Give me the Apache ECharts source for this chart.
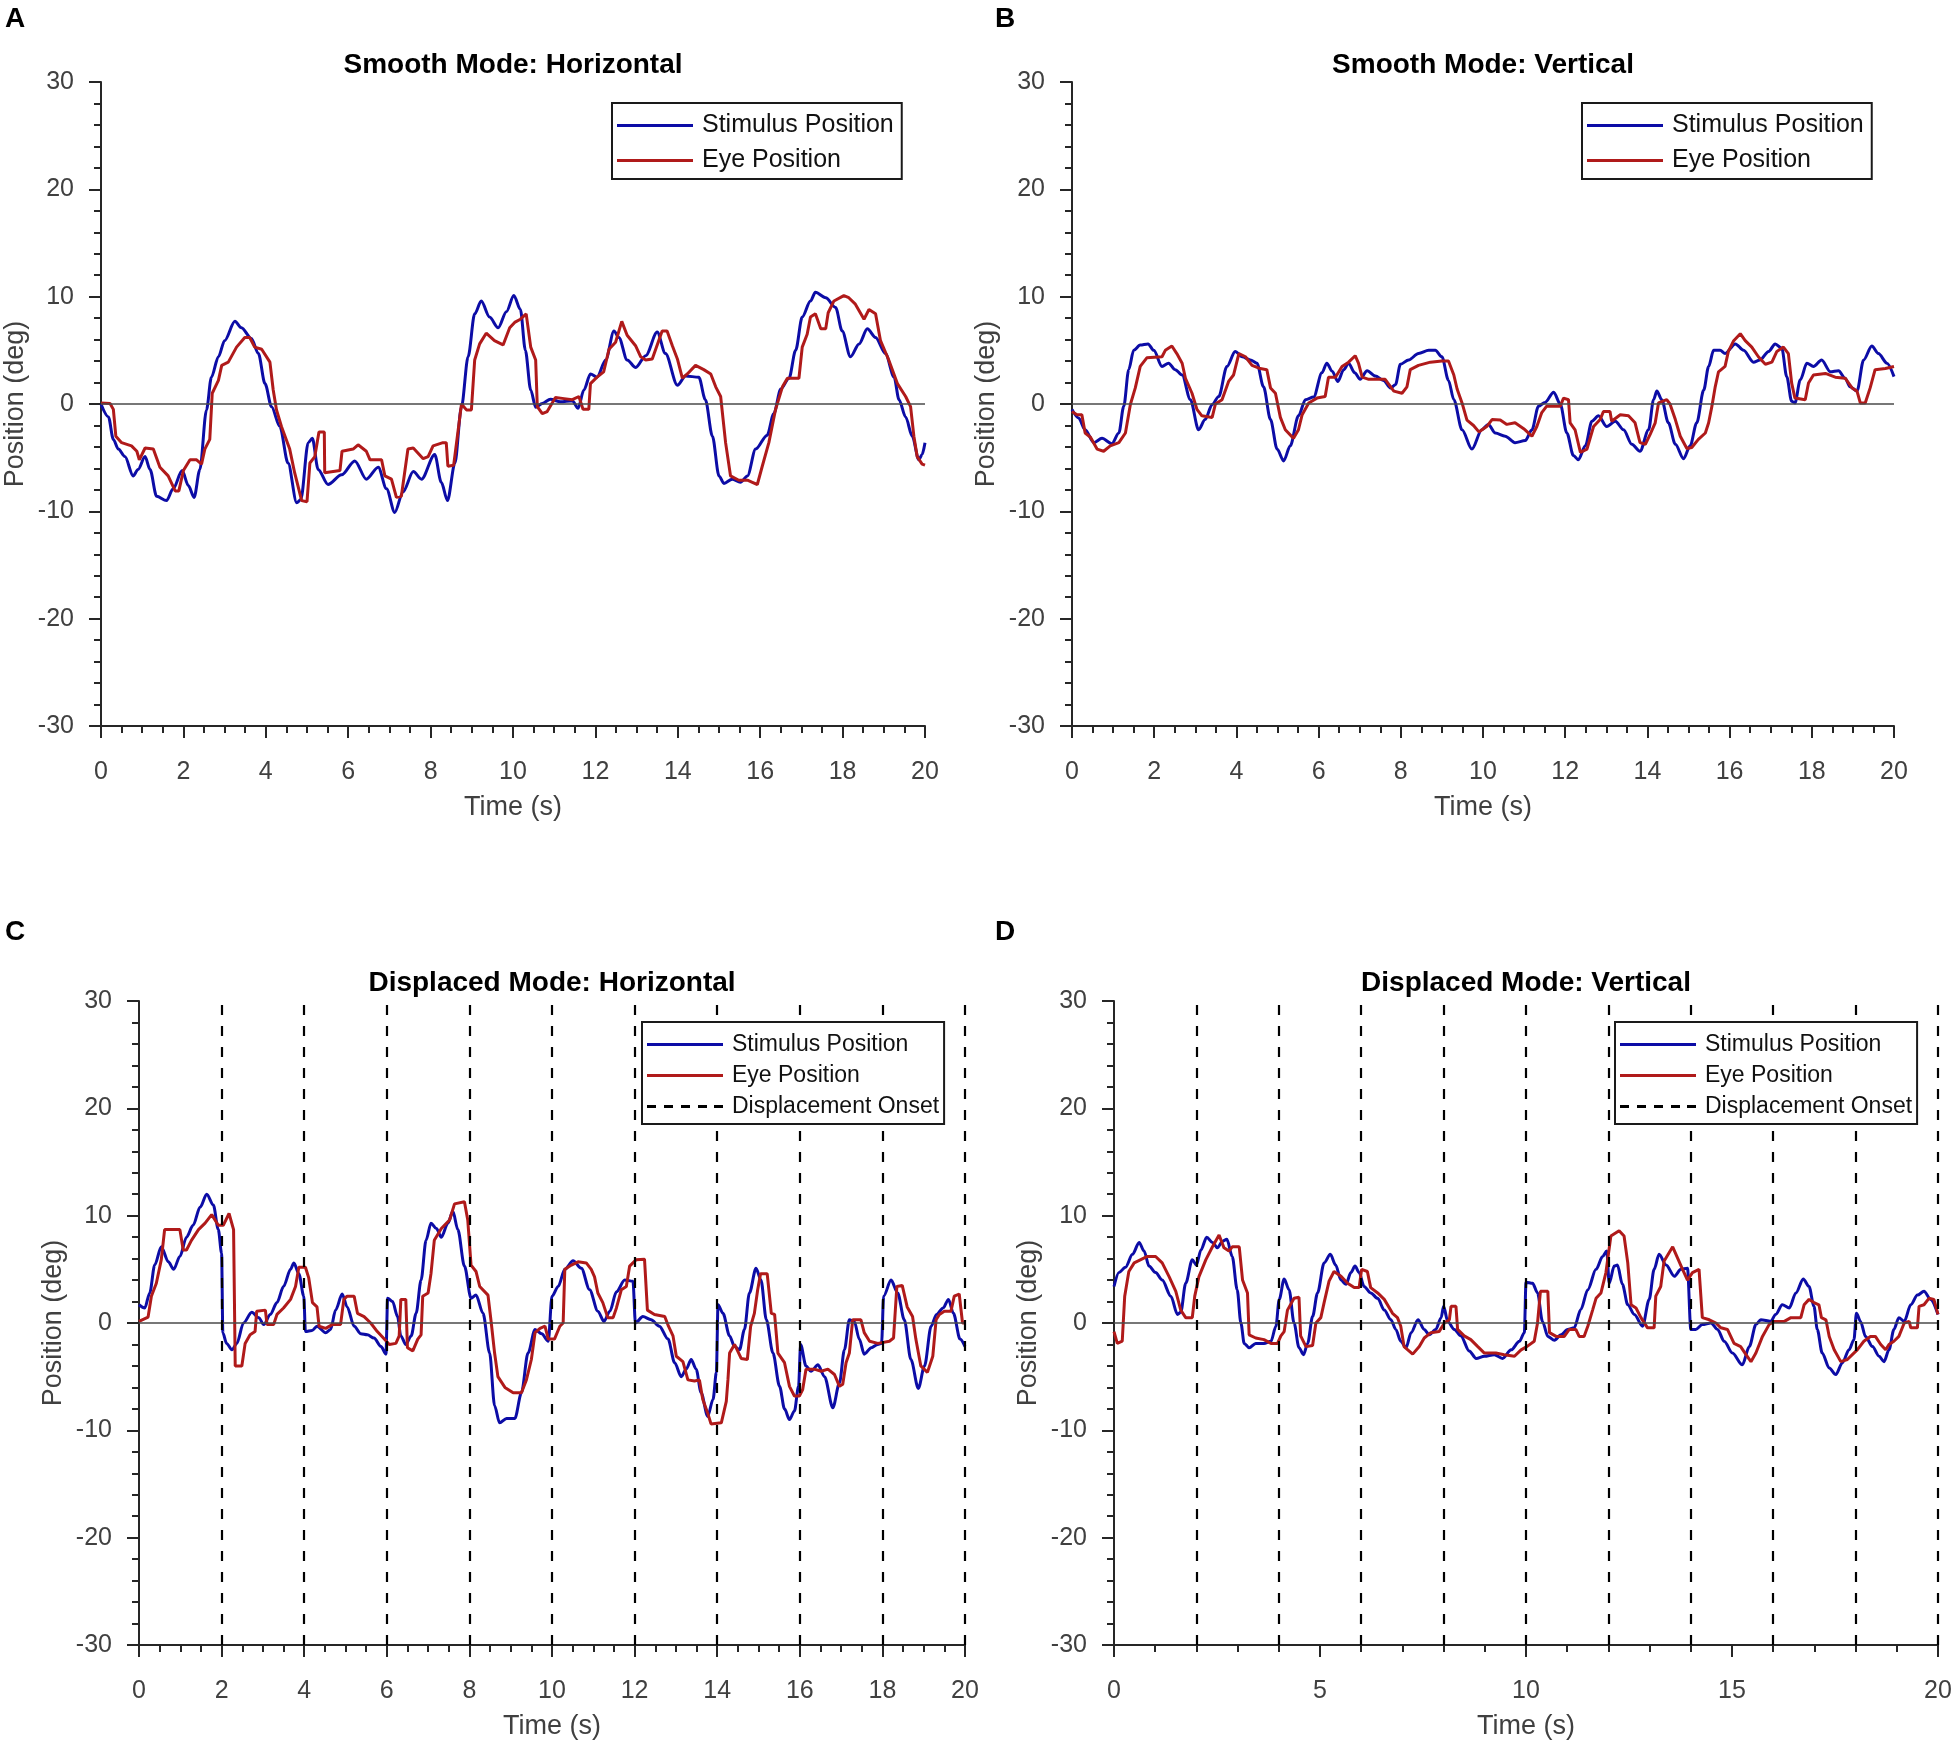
<!DOCTYPE html>
<html>
<head>
<meta charset="utf-8">
<script src="https://cdn.jsdelivr.net/npm/echarts@6/dist/echarts.min.js"></script>
<style>
html,body{margin:0;padding:0;background:#fff;}
#chart{width:1955px;height:1744px;}
</style>
</head>
<body>
<div id="chart"></div>
<script>
// ---------- DATA ----------
const panelTitles = ['Smooth Mode: Horizontal', 'Smooth Mode: Vertical', 'Displaced Mode: Horizontal', 'Displaced Mode: Vertical'];
const panelLetters = ['A', 'B', 'C', 'D'];
const seriesNames = ['Stimulus Position', 'Eye Position', 'Displacement Onset'];
const xAxisName = 'Time (s)';
const yAxisName = 'Position (deg)';
const displacementOnsets = [2, 4, 6, 8, 10, 12, 14, 16, 18, 20];

// Panel A: smooth mode, horizontal  [time (s), position (deg)]
const smoothHorizStimulus = [[0,0],[0.18,-1.2],[0.3,-3.3],[0.42,-4.2],[0.58,-4.9],[0.78,-6.7],[0.9,-6.1],[1.07,-4.9],[1.19,-6.1],[1.35,-8.6],[1.59,-9.0],[1.75,-7.9],[1.97,-6.2],[2.12,-7.6],[2.26,-8.7],[2.4,-6.1],[2.56,-0.55],[2.68,2.5],[2.85,4.4],[3.0,5.9],[3.25,7.7],[3.41,7.1],[3.65,6.1],[3.82,4.7],[3.98,1.9],[4.14,-0.25],[4.34,-2.1],[4.54,-5.5],[4.75,-9.2],[4.85,-8.9],[5.03,-3.6],[5.13,-3.2],[5.27,-6.1],[5.51,-7.5],[5.84,-6.6],[6.16,-5.3],[6.44,-7.0],[6.73,-5.9],[6.93,-7.9],[7.13,-10.1],[7.33,-8.2],[7.58,-6.3],[7.78,-7.0],[8.1,-4.7],[8.26,-7.3],[8.41,-9.0],[8.59,-5.5],[8.75,-0.25],[8.91,4.4],[9.07,8.4],[9.23,9.6],[9.43,8.1],[9.64,7.1],[9.84,8.6],[10.02,10.1],[10.18,8.8],[10.3,5.0],[10.43,1.3],[10.55,-0.3],[10.71,0.05],[10.91,0.45],[11.15,0.2],[11.44,0.3],[11.58,-0.4],[11.72,1.3],[11.88,2.8],[12.04,2.5],[12.25,4.1],[12.45,6.8],[12.57,6.2],[12.77,4.1],[12.98,3.4],[13.22,4.5],[13.5,6.7],[13.7,4.7],[13.99,1.75],[14.19,2.6],[14.51,2.5],[14.67,0.4],[14.84,-3.0],[15.0,-6.7],[15.12,-7.4],[15.32,-7.0],[15.52,-7.3],[15.69,-6.7],[15.89,-4.2],[16.17,-2.9],[16.33,-0.9],[16.5,1.4],[16.7,2.4],[16.86,5.0],[17.02,8.1],[17.22,9.6],[17.34,10.4],[17.59,9.9],[17.83,9.0],[17.99,6.8],[18.19,4.4],[18.4,5.6],[18.6,7.0],[18.8,6.2],[19.04,4.7],[19.25,2.5],[19.37,0.4],[19.53,-1.2],[19.69,-3.0],[19.85,-5.2],[19.93,-4.7],[20.0,-3.6]];
const smoothHorizEye = [[0,0.1],[0.22,0.05],[0.3,-0.5],[0.36,-3.0],[0.5,-3.6],[0.74,-3.9],[0.87,-4.4],[0.93,-5.2],[1.07,-4.1],[1.27,-4.2],[1.43,-5.9],[1.63,-6.7],[1.8,-8.1],[1.89,-8.1],[2.0,-6.2],[2.16,-5.2],[2.32,-5.2],[2.44,-5.6],[2.52,-4.2],[2.64,-3.3],[2.7,1.0],[2.85,2.2],[2.93,3.6],[3.09,3.9],[3.29,5.3],[3.49,6.2],[3.61,6.2],[3.73,5.3],[3.9,5.1],[4.1,3.9],[4.18,1.3],[4.26,-0.55],[4.38,-2.1],[4.58,-4.2],[4.7,-6.4],[4.87,-9.0],[5.0,-9.1],[5.07,-5.5],[5.19,-4.9],[5.29,-2.6],[5.42,-2.6],[5.43,-6.4],[5.8,-6.2],[5.85,-4.4],[6.12,-4.2],[6.24,-3.8],[6.44,-4.4],[6.53,-5.2],[6.81,-5.2],[6.89,-6.7],[7.05,-7.0],[7.17,-8.7],[7.29,-8.6],[7.45,-4.2],[7.58,-4.1],[7.82,-5.1],[7.94,-4.9],[8.06,-3.9],[8.3,-3.6],[8.38,-3.6],[8.42,-5.8],[8.56,-5.7],[8.67,-2.4],[8.75,0],[8.87,-0.55],[8.99,-0.55],[9.07,4.1],[9.19,5.6],[9.35,6.6],[9.55,5.9],[9.76,5.5],[9.92,7.1],[10.04,7.6],[10.18,7.9],[10.32,8.4],[10.43,5.3],[10.55,4.1],[10.59,-0.25],[10.71,-0.9],[10.83,-0.7],[11.03,0.6],[11.24,0.5],[11.44,0.4],[11.6,0.7],[11.7,-0.5],[11.84,-0.5],[11.88,1.9],[12.04,2.5],[12.2,3.0],[12.33,5.1],[12.49,5.75],[12.64,7.7],[12.77,6.4],[12.98,5.4],[13.1,4.4],[13.22,4.1],[13.38,4.2],[13.62,6.8],[13.74,6.8],[13.87,5.4],[13.99,4.2],[14.11,2.4],[14.23,2.8],[14.43,3.6],[14.63,3.2],[14.8,2.8],[14.92,1.6],[15.04,0.7],[15.16,-3.6],[15.28,-6.7],[15.48,-7.1],[15.69,-7.1],[15.81,-7.3],[15.93,-7.5],[16.05,-5.8],[16.21,-3.6],[16.37,-0.55],[16.54,1.6],[16.66,2.4],[16.94,2.4],[17.02,5.3],[17.14,6.5],[17.22,8.1],[17.34,8.4],[17.47,7.0],[17.59,7.0],[17.65,8.5],[17.79,9.6],[18.03,10.1],[18.15,9.9],[18.31,9.3],[18.52,7.9],[18.64,8.8],[18.8,8.4],[18.92,5.9],[19.12,4.1],[19.33,1.9],[19.53,0.7],[19.65,-0.25],[19.73,-3.0],[19.81,-4.9],[19.93,-5.6],[20.0,-5.7]];

// Panel B: smooth mode, vertical
const smoothVertStimulus = [[0,-0.5],[0.16,-1.3],[0.32,-2.4],[0.53,-3.6],[0.73,-3.2],[0.97,-3.7],[1.14,-2.7],[1.26,-0.2],[1.38,3.2],[1.5,5.0],[1.66,5.5],[1.85,5.6],[1.99,5.0],[2.19,3.5],[2.35,3.8],[2.51,3.2],[2.68,2.7],[2.88,0.4],[3.08,-2.4],[3.24,-1.45],[3.41,-0.05],[3.57,0.7],[3.77,3.5],[3.97,4.9],[4.14,4.4],[4.34,4.1],[4.5,3.8],[4.66,1.6],[4.83,-1.45],[4.99,-4.2],[5.15,-5.3],[5.31,-3.9],[5.51,-1.1],[5.68,0.4],[5.88,0.65],[6.08,2.9],[6.2,3.8],[6.33,3.05],[6.47,2.1],[6.61,3.2],[6.73,3.8],[6.88,2.9],[7.01,2.3],[7.18,3.1],[7.38,2.6],[7.58,2.2],[7.75,1.5],[7.87,1.8],[7.99,3.7],[8.19,4.1],[8.43,4.7],[8.68,5.0],[8.84,5.0],[9.0,4.4],[9.16,2.2],[9.29,0.4],[9.49,-2.4],[9.73,-4.2],[9.97,-2.4],[10.13,-1.9],[10.3,-2.7],[10.54,-3.0],[10.78,-3.6],[11.03,-3.4],[11.19,-2.4],[11.35,-0.2],[11.51,0.15],[11.72,1.1],[11.88,0],[12.04,-2.7],[12.2,-4.8],[12.32,-5.2],[12.49,-3.9],[12.65,-1.6],[12.81,-1.1],[13.01,-2.1],[13.22,-1.6],[13.42,-2.4],[13.62,-3.75],[13.82,-4.4],[14.03,-2.4],[14.15,0.4],[14.23,1.2],[14.35,0.4],[14.51,-1.75],[14.68,-3.75],[14.88,-5.1],[15.04,-3.9],[15.2,-1.75],[15.37,1.3],[15.49,3.5],[15.61,5.0],[15.77,5.0],[15.89,4.7],[16.14,5.6],[16.34,5.0],[16.58,3.9],[16.74,4.1],[16.95,4.9],[17.11,5.6],[17.27,5.2],[17.39,2.55],[17.51,0.25],[17.59,0.1],[17.72,2.25],[17.88,3.8],[18.04,3.5],[18.24,4.1],[18.45,3.0],[18.65,3.1],[18.81,2.4],[18.93,1.6],[19.1,1.2],[19.26,4.1],[19.46,5.4],[19.62,4.7],[19.83,3.8],[20.0,2.55]];
const smoothVertEye = [[0,-0.7],[0.12,-1.0],[0.24,-1.0],[0.32,-2.7],[0.45,-3.1],[0.61,-4.2],[0.77,-4.4],[0.93,-3.9],[1.14,-3.6],[1.3,-2.7],[1.42,-0.05],[1.54,1.5],[1.66,3.5],[1.82,4.3],[2.19,4.4],[2.27,5.0],[2.43,5.4],[2.55,4.7],[2.68,3.8],[2.76,2.4],[2.92,1.0],[3.04,-0.5],[3.16,-1.1],[3.41,-1.25],[3.49,0],[3.65,0.4],[3.81,2.1],[3.93,2.7],[4.06,4.7],[4.22,4.4],[4.38,3.6],[4.58,3.3],[4.74,3.2],[4.83,1.5],[4.95,1.0],[5.07,-1.25],[5.19,-2.4],[5.39,-3.2],[5.51,-2.4],[5.6,-1.0],[5.76,0.1],[5.96,0.55],[6.16,0.7],[6.24,2.5],[6.41,2.5],[6.57,3.5],[6.73,3.9],[6.89,4.5],[6.97,3.8],[7.06,2.5],[7.22,2.3],[7.62,2.3],[7.83,1.2],[8.03,1.0],[8.15,1.6],[8.23,3.2],[8.43,3.6],[8.72,3.9],[9.0,4.0],[9.16,4.0],[9.29,2.7],[9.37,1.4],[9.49,0.1],[9.61,-1.5],[9.77,-2.0],[9.9,-2.6],[10.09,-2.1],[10.22,-1.45],[10.42,-1.5],[10.58,-1.9],[10.78,-1.75],[10.99,-2.3],[11.19,-3.0],[11.31,-2.1],[11.43,-0.8],[11.55,-0.2],[11.88,-0.2],[11.96,0.55],[12.08,0.4],[12.12,-1.75],[12.24,-2.4],[12.37,-4.5],[12.53,-4.2],[12.69,-2.1],[12.85,-1.45],[12.93,-0.7],[13.09,-0.7],[13.13,-1.6],[13.34,-1.0],[13.54,-1.1],[13.7,-1.75],[13.82,-3.6],[13.95,-3.75],[14.07,-2.8],[14.19,-1.75],[14.27,0.1],[14.47,0.4],[14.55,0],[14.68,-1.45],[14.8,-3.0],[14.96,-4.15],[15.08,-4.05],[15.24,-3.3],[15.41,-2.7],[15.49,-1.75],[15.57,-0.2],[15.65,1.6],[15.73,3.0],[15.89,3.5],[15.97,4.9],[16.1,5.9],[16.26,6.55],[16.38,5.9],[16.54,5.3],[16.7,4.4],[16.87,3.7],[17.03,3.9],[17.15,4.9],[17.31,5.3],[17.43,4.7],[17.51,1.95],[17.59,0.55],[17.84,0.4],[17.92,1.95],[18.04,2.7],[18.33,2.85],[18.57,2.5],[18.81,2.4],[18.98,1.5],[19.1,1.2],[19.18,0.1],[19.3,0.1],[19.42,1.5],[19.54,3.2],[19.79,3.3],[20.0,3.5]];

// Panel C: displaced mode, horizontal
const displacedHorizStimulus = [[0,1.7],[0.14,1.4],[0.26,2.8],[0.38,5.4],[0.54,7.1],[0.71,5.7],[0.84,5.0],[0.99,6.2],[1.15,8.0],[1.31,9.1],[1.48,10.8],[1.64,12.0],[1.8,11.0],[1.92,8.7],[2.0,6.5],[2.03,-0.9],[2.12,-1.9],[2.25,-2.5],[2.37,-1.9],[2.53,0],[2.73,1.0],[2.9,0.5],[3.02,-0.15],[3.18,0.8],[3.34,1.9],[3.5,3.4],[3.67,5.0],[3.75,5.6],[3.87,4.6],[3.99,2.5],[4.03,-0.8],[4.19,-0.7],[4.31,-0.3],[4.52,-0.9],[4.64,-0.6],[4.76,1.2],[4.92,2.7],[5.04,1.5],[5.21,-0.3],[5.37,-1.0],[5.53,-1.1],[5.69,-1.4],[5.86,-2.2],[5.98,-2.9],[6.02,2.3],[6.14,2.0],[6.26,0.6],[6.34,-1.2],[6.46,-2.0],[6.59,-1.2],[6.71,0.9],[6.83,4.0],[6.95,7.7],[7.07,9.3],[7.2,8.8],[7.32,8.0],[7.48,9.3],[7.6,10.4],[7.72,8.7],[7.88,5.3],[8.04,2.3],[8.16,2.6],[8.33,0.9],[8.49,-2.8],[8.61,-7.7],[8.73,-9.3],[8.9,-8.9],[9.1,-8.9],[9.26,-6.5],[9.42,-2.8],[9.59,-0.6],[9.75,-1.0],[9.91,-1.7],[10.0,2.5],[10.15,3.4],[10.31,5.0],[10.51,5.8],[10.71,5.1],[10.91,3.1],[11.11,1.1],[11.26,0.15],[11.4,1.1],[11.56,2.9],[11.76,4.0],[11.96,3.9],[12.02,0],[12.2,0.6],[12.4,0.3],[12.6,-0.3],[12.81,-1.5],[12.97,-3.7],[13.13,-5.0],[13.25,-4.3],[13.37,-3.4],[13.49,-4.3],[13.61,-6.5],[13.77,-8.7],[13.9,-7.1],[13.98,-4.6],[14.02,1.7],[14.14,0.9],[14.3,-1.2],[14.42,-2.2],[14.54,-2.5],[14.66,-0.6],[14.78,2.8],[14.94,5.1],[15.06,4.0],[15.19,0.3],[15.35,-2.8],[15.51,-5.9],[15.63,-8.0],[15.75,-9.0],[15.87,-8.2],[15.97,-5.9],[16.02,-2.0],[16.15,-4.0],[16.27,-4.5],[16.44,-3.9],[16.6,-5.0],[16.8,-7.9],[16.96,-5.6],[17.08,-2.5],[17.2,0.3],[17.32,0.15],[17.44,-1.5],[17.56,-2.9],[17.73,-2.3],[17.89,-2.0],[17.98,-1.9],[18.03,2.5],[18.21,4.0],[18.37,2.8],[18.53,0.3],[18.69,-3.4],[18.87,-6.1],[19.02,-4.0],[19.18,-0.3],[19.31,0.8],[19.47,1.4],[19.6,2.2],[19.72,0.9],[19.88,-1.5],[20.0,-2.2]];
const displacedHorizEye = [[0,0.15],[0.22,0.55],[0.3,2.5],[0.42,3.7],[0.54,5.9],[0.62,8.7],[0.99,8.7],[1.07,6.8],[1.15,6.8],[1.27,7.7],[1.44,8.7],[1.6,9.3],[1.76,10.1],[1.92,9.1],[2.04,9.1],[2.18,10.2],[2.29,8.7],[2.33,-4.0],[2.49,-4.0],[2.57,-1.9],[2.69,-1.1],[2.81,-0.8],[2.85,1.1],[3.06,1.2],[3.1,-0.15],[3.26,-0.15],[3.34,0.8],[3.5,1.4],[3.67,2.2],[3.79,3.4],[3.87,5.2],[4.03,5.2],[4.11,4.2],[4.2,1.9],[4.31,1.5],[4.36,-0.3],[4.52,-0.5],[4.68,-0.15],[4.88,-0.15],[4.96,2.2],[5.04,2.5],[5.21,2.5],[5.29,0.9],[5.45,0.6],[5.61,0],[5.77,-0.8],[5.94,-1.5],[6.06,-2.0],[6.22,-1.9],[6.3,-1.2],[6.34,2.2],[6.46,2.2],[6.5,-2.3],[6.63,-2.6],[6.75,-1.5],[6.83,-1.1],[6.87,2.5],[7.0,2.8],[7.07,4.6],[7.15,7.7],[7.32,8.8],[7.52,9.6],[7.64,11.1],[7.88,11.3],[7.96,9.6],[8.04,5.4],[8.16,4.8],[8.25,3.4],[8.45,2.6],[8.53,0],[8.61,-2.8],[8.69,-5.0],[8.86,-6.0],[9.06,-6.5],[9.26,-6.5],[9.38,-5.3],[9.5,-3.4],[9.59,-0.9],[9.71,-0.5],[9.83,-0.3],[9.91,-1.5],[10.06,-1.5],[10.19,-0.3],[10.27,0],[10.31,5.0],[10.47,5.4],[10.63,5.7],[10.83,5.6],[10.95,5.0],[11.03,4.3],[11.11,2.8],[11.23,1.9],[11.35,0.5],[11.48,0.5],[11.56,1.4],[11.68,3.1],[11.8,3.4],[11.88,5.3],[12.04,5.9],[12.24,5.95],[12.31,1.2],[12.48,0.8],[12.73,0.6],[12.82,-0.3],[12.93,-1.2],[13.01,-3.1],[13.17,-3.6],[13.29,-5.3],[13.45,-5.4],[13.57,-5.3],[13.65,-7.1],[13.77,-8.4],[13.85,-9.4],[14.1,-9.3],[14.22,-7.3],[14.26,-5.3],[14.3,-2.8],[14.42,-2.0],[14.58,-3.3],[14.73,-3.4],[14.81,-0.3],[14.9,0.9],[14.98,3.1],[15.05,4.6],[15.21,4.6],[15.31,0.9],[15.39,0.8],[15.47,-2.8],[15.63,-3.7],[15.75,-5.9],[15.87,-6.8],[15.99,-6.8],[16.07,-6.2],[16.15,-4.3],[16.35,-4.3],[16.52,-4.5],[16.68,-4.3],[16.84,-4.8],[16.96,-5.9],[17.04,-5.7],[17.12,-3.7],[17.2,-2.8],[17.28,0.3],[17.48,0.3],[17.56,-0.9],[17.69,-1.7],[17.89,-1.9],[18.17,-1.7],[18.27,-1.4],[18.35,3.4],[18.48,3.5],[18.6,1.5],[18.73,0.6],[18.81,-1.5],[18.93,-4.0],[19.09,-4.6],[19.22,-3.1],[19.3,0.3],[19.38,0.8],[19.5,1.1],[19.66,1.1],[19.74,2.5],[19.86,2.7],[19.94,0],[20.0,0]];

// Panel D: displaced mode, vertical
const displacedVertStimulus = [[0,3.4],[0.12,4.7],[0.28,5.2],[0.45,6.4],[0.61,7.5],[0.73,6.7],[0.85,5.3],[1.01,4.7],[1.17,4.0],[1.38,2.5],[1.54,0.8],[1.62,1.0],[1.74,3.7],[1.9,5.9],[2.0,5.4],[2.11,6.8],[2.25,8.0],[2.39,7.5],[2.51,7.0],[2.63,7.6],[2.74,7.8],[2.87,6.2],[2.99,3.1],[3.08,0],[3.16,-1.9],[3.28,-2.3],[3.44,-1.9],[3.64,-1.9],[3.81,-1.7],[3.93,-0.3],[4.01,2.2],[4.13,4.1],[4.25,3.1],[4.37,0],[4.49,-2.3],[4.6,-2.95],[4.7,-1.9],[4.82,0.6],[4.94,2.8],[5.1,5.6],[5.25,6.4],[5.38,5.4],[5.51,4.0],[5.63,3.6],[5.75,4.7],[5.85,5.3],[5.95,4.7],[6.07,3.4],[6.23,2.8],[6.4,2.3],[6.56,1.2],[6.72,0.3],[6.84,-0.6],[6.96,-1.7],[7.09,-2.3],[7.21,-0.9],[7.38,0.3],[7.53,-0.6],[7.65,-1.1],[7.81,-0.6],[7.94,0.5],[8.0,1.55],[8.1,0.15],[8.26,-0.6],[8.42,-1.2],[8.62,-2.6],[8.79,-3.3],[8.99,-3.1],[9.23,-2.95],[9.43,-3.3],[9.64,-2.5],[9.84,-1.7],[9.96,-0.9],[10.0,3.8],[10.16,3.7],[10.28,2.8],[10.4,0.15],[10.53,-1.25],[10.69,-1.6],[10.85,-1.1],[11.01,-0.6],[11.17,-0.45],[11.33,1.25],[11.5,3.1],[11.7,5.0],[11.86,6.2],[11.96,6.7],[12.02,3.7],[12.14,5.3],[12.22,5.4],[12.34,3.6],[12.47,1.7],[12.63,0.8],[12.83,-0.3],[12.99,2.2],[13.11,5.0],[13.23,6.4],[13.4,5.4],[13.6,4.35],[13.76,5.0],[13.92,5.1],[14.0,-0.6],[14.12,-0.6],[14.28,-0.15],[14.49,0],[14.65,-0.6],[14.81,-1.7],[15.01,-2.8],[15.25,-3.9],[15.42,-2.2],[15.58,-0.15],[15.7,0.3],[15.94,0.15],[16.06,0.8],[16.22,1.7],[16.39,1.4],[16.55,2.8],[16.73,4.1],[16.87,3.4],[16.99,1.55],[17.07,-0.6],[17.19,-2.8],[17.36,-4.2],[17.52,-4.8],[17.68,-3.7],[17.84,-2.5],[17.96,-1.55],[18.02,0.9],[18.12,0.15],[18.24,-1.25],[18.41,-2.2],[18.57,-3.1],[18.69,-3.6],[18.81,-2.5],[18.93,-0.6],[19.05,0.5],[19.18,0.15],[19.34,1.7],[19.5,2.6],[19.66,2.95],[19.82,2.2],[20.0,0.8]];
const displacedVertEye = [[0,-0.8],[0.08,-1.9],[0.2,-1.7],[0.26,2.5],[0.36,4.8],[0.49,5.6],[0.65,5.9],[0.81,6.2],[1.01,6.2],[1.17,5.6],[1.34,4.3],[1.5,2.95],[1.62,1.2],[1.74,0.5],[1.9,0.5],[1.96,2.5],[2.06,4.3],[2.23,5.9],[2.39,7.1],[2.55,8.2],[2.67,7.0],[2.79,6.7],[2.87,7.1],[3.04,7.1],[3.12,4.0],[3.24,2.8],[3.28,-1.1],[3.44,-1.4],[3.64,-1.55],[3.81,-1.9],[3.97,-1.9],[4.05,-1.2],[4.13,-0.8],[4.21,1.2],[4.37,2.3],[4.49,2.4],[4.53,-1.2],[4.66,-2.2],[4.82,-2.1],[4.9,0],[5.02,0.5],[5.1,1.9],[5.22,3.9],[5.34,4.8],[5.51,4.35],[5.67,3.7],[5.83,3.3],[5.95,3.3],[6.01,5.0],[6.15,4.8],[6.23,3.3],[6.4,2.8],[6.56,2.2],[6.76,0.9],[6.88,0.5],[6.96,-0.3],[7.04,-2.2],[7.25,-2.9],[7.41,-2.2],[7.53,-1.4],[7.69,-0.9],[7.89,-0.8],[8.02,0],[8.14,0.3],[8.18,1.55],[8.3,1.55],[8.34,-0.6],[8.5,-1.2],[8.66,-1.55],[8.83,-2.2],[8.99,-2.8],[9.27,-2.8],[9.47,-2.95],[9.72,-3.1],[9.88,-2.5],[10.02,-2.2],[10.2,-1.7],[10.28,0],[10.35,2.95],[10.53,2.95],[10.57,-0.9],[10.73,-1.25],[10.93,-1.25],[11.05,-0.6],[11.21,-0.6],[11.29,-1.25],[11.41,-1.25],[11.5,-0.3],[11.62,1.25],[11.7,2.3],[11.82,2.8],[11.94,4.7],[12.06,8.1],[12.26,8.6],[12.38,8.1],[12.47,5.6],[12.55,1.7],[12.67,1.4],[12.79,0.5],[12.95,-0.45],[13.11,-0.45],[13.15,2.5],[13.27,3.4],[13.35,5.75],[13.56,7.1],[13.68,6.05],[13.8,5.0],[13.92,4.0],[14.04,4.7],[14.2,5.0],[14.28,0.5],[14.45,0.3],[14.61,0],[14.73,-0.45],[14.89,-0.6],[15.05,-1.9],[15.21,-2.2],[15.34,-2.95],[15.46,-3.6],[15.58,-2.8],[15.74,-1.25],[15.9,-0.15],[16.02,0.15],[16.27,0.15],[16.43,0.5],[16.67,0.5],[16.75,1.7],[16.87,2.2],[16.99,1.9],[17.11,1.7],[17.17,0.5],[17.28,0.3],[17.36,-1.25],[17.48,-2.5],[17.64,-3.6],[17.8,-3.4],[17.92,-2.95],[18.04,-2.5],[18.2,-1.7],[18.36,-1.25],[18.48,-1.25],[18.61,-2.0],[18.73,-2.5],[18.81,-2.0],[18.93,-1.7],[19.05,-1.25],[19.18,0],[19.3,0.15],[19.34,-0.45],[19.5,-0.45],[19.54,1.55],[19.66,1.7],[19.78,2.3],[19.9,2.2],[20.0,0.8]];

// ---------- LAYOUT / STYLE ----------
const FONT = '"Liberation Sans", Arial, Helvetica, sans-serif';
const AX = '#262626';
const BLUE = '#0c0ca6';
const RED = '#b01a1a';

// legend sample icons (solid bar, dashed bar)
const SOLID_ICON = 'path://M0,0H76V3H0Z';
const DASHED_ICON = 'path://M0,0H9V3H0Z M17,0H26V3H17Z M34,0H43V3H34Z M51,0H60V3H51Z M67,0H76V3H67Z';

const grids = [
  {left: 101, top: 82, width: 824, height: 644},
  {left: 1072, top: 82, width: 822, height: 644},
  {left: 139, top: 1001, width: 826, height: 644},
  {left: 1114, top: 1001, width: 824, height: 644}
];
const xIntervals = [2, 2, 2, 5];
const xMinorSplits = [4, 4, 4, 5];
const hasOnset = [false, false, true, true];
const stimData = [smoothHorizStimulus, smoothVertStimulus, displacedHorizStimulus, displacedVertStimulus];
const eyeData = [smoothHorizEye, smoothVertEye, displacedHorizEye, displacedVertEye];
const titleY = [65, 65, 983, 983];
const letterPos = [[5, 19], [995, 19], [5, 932], [995, 932]];
const legendPos = [
  {left: 612, top: 103, fontSize: 25, gap: 10, padding: [10, 8, 6, 5]},
  {left: 1582, top: 103, fontSize: 25, gap: 10, padding: [10, 8, 6, 5]},
  {left: 642, top: 1022, fontSize: 23, gap: 8, padding: [11, 5, 6, 5]},
  {left: 1615, top: 1022, fontSize: 23, gap: 8, padding: [11, 5, 6, 5]}
];

const xAxes = [], yAxes = [], series = [], legends = [], graphics = [];

grids.forEach((g, i) => {
  xAxes.push({
    type: 'value', gridIndex: i, min: 0, max: 20, interval: xIntervals[i],
    name: xAxisName, nameLocation: 'middle', nameGap: 68,
    nameTextStyle: {fontFamily: FONT, fontSize: 27, color: '#404040'},
    axisLine: {show: true, onZero: false, lineStyle: {color: AX, width: 2}},
    axisTick: {show: true, inside: false, length: 12, lineStyle: {color: AX, width: 2}},
    minorTick: {show: true, splitNumber: xMinorSplits[i], length: 7, lineStyle: {color: AX, width: 2}},
    axisLabel: {fontFamily: FONT, fontSize: 25, color: '#404040', margin: 34},
    splitLine: {show: false}, minorSplitLine: {show: false}
  });
  yAxes.push({
    type: 'value', gridIndex: i, min: -30, max: 30, interval: 10,
    name: yAxisName, nameLocation: 'middle', nameGap: 72,
    nameTextStyle: {fontFamily: FONT, fontSize: 27, color: '#404040'},
    axisLine: {show: true, onZero: false, lineStyle: {color: AX, width: 2}},
    axisTick: {show: true, inside: false, length: 12, lineStyle: {color: AX, width: 2}},
    minorTick: {show: true, splitNumber: 5, length: 7, lineStyle: {color: AX, width: 2}},
    axisLabel: {fontFamily: FONT, fontSize: 25, color: '#404040', margin: 27},
    splitLine: {show: false}, minorSplitLine: {show: false}
  });

  // zero reference line
  series.push({
    type: 'line', name: 'zero', xAxisIndex: i, yAxisIndex: i, data: [], z: 1,
    silent: true, symbol: 'none',
    markLine: {silent: true, symbol: ['none', 'none'], label: {show: false},
      lineStyle: {color: '#4a4a4a', width: 1.6, type: 'solid'},
      data: [{yAxis: 0}], animation: false}
  });
  if (hasOnset[i]) {
    series.push({
      type: 'line', name: seriesNames[2], xAxisIndex: i, yAxisIndex: i,
      data: [], symbol: 'none', showSymbol: false, z: 2,
      lineStyle: {color: '#000', width: 2.4, type: [8, 6]}, itemStyle: {color: '#000'},
      markLine: {silent: true, symbol: ['none', 'none'], label: {show: false},
        lineStyle: {color: '#000', width: 2.2, type: [10, 11]},
        data: displacementOnsets.map(t => ({xAxis: t})), animation: false}
    });
  }
  series.push({
    type: 'line', name: seriesNames[0], xAxisIndex: i, yAxisIndex: i,
    data: stimData[i], symbol: 'none', showSymbol: false,
    smooth: 0.3, smoothMonotone: 'x', z: 3,
    lineStyle: {color: BLUE, width: 3}, itemStyle: {color: BLUE}
  });
  series.push({
    type: 'line', name: seriesNames[1], xAxisIndex: i, yAxisIndex: i,
    data: eyeData[i], symbol: 'none', showSymbol: false, smooth: false, z: 4,
    lineStyle: {color: RED, width: 3}, itemStyle: {color: RED}
  });

  const lp = legendPos[i];
  const legendItems = [
    {name: seriesNames[0], icon: SOLID_ICON, itemStyle: {color: BLUE}},
    {name: seriesNames[1], icon: SOLID_ICON, itemStyle: {color: RED}}
  ];
  if (hasOnset[i]) legendItems.push({name: seriesNames[2], icon: DASHED_ICON, itemStyle: {color: '#000'}});
  legends.push({
    orient: 'vertical', left: lp.left, top: lp.top, z: 20,
    data: legendItems,
    selectedMode: false, backgroundColor: '#fff',
    borderColor: '#1a1a1a', borderWidth: 2, borderRadius: 0,
    padding: lp.padding, itemGap: lp.gap, itemWidth: 76, itemHeight: 3,
    textStyle: {fontFamily: FONT, fontSize: lp.fontSize, color: '#111', padding: [0, 0, 0, 4]}
  });

  graphics.push({
    type: 'text', x: g.left + g.width / 2, y: titleY[i], z: 10,
    style: {text: panelTitles[i], font: 'bold 28px ' + FONT, fill: '#000',
      textAlign: 'center', textVerticalAlign: 'middle'}
  });
  graphics.push({
    type: 'text', x: letterPos[i][0], y: letterPos[i][1], z: 10,
    style: {text: panelLetters[i], font: 'bold 28px ' + FONT, fill: '#000',
      textAlign: 'left', textVerticalAlign: 'middle'}
  });
});

const chart = echarts.init(document.getElementById('chart'), null, {renderer: 'canvas'});
chart.setOption({
  backgroundColor: '#fff',
  animation: false,
  grid: grids,
  xAxis: xAxes,
  yAxis: yAxes,
  legend: legends,
  series: series,
  graphic: graphics
});
</script>
</body>
</html>
